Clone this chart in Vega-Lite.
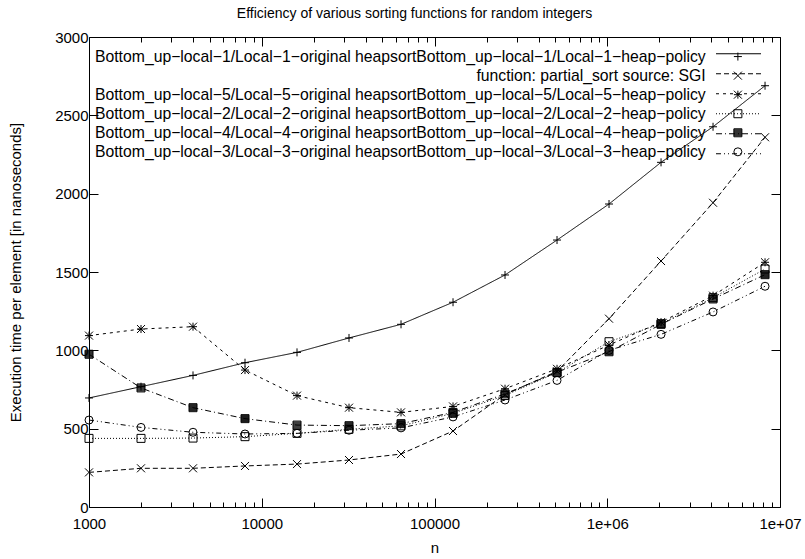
{
  "$schema": "https://vega.github.io/schema/vega-lite/v6.json",
  "width": 691,
  "height": 470,
  "autosize": {"type": "none"},
  "padding": {"left": 89, "top": 37, "right": 25, "bottom": 52},
  "background": "white",
  "title": {"text": "Efficiency of various sorting functions for random integers", "fontSize": 14, "fontWeight": "normal", "font": "Liberation Sans", "color": "black", "offset": 9, "dx": -20},
  "datasets": {
    "labels": [
      {"id": 1, "series": "Bottom_up−local−1/Local−1−original heapsortBottom_up−local−1/Local−1−heap−policy"},
      {"id": 2, "series": "function: partial_sort source: SGI"},
      {"id": 3, "series": "Bottom_up−local−5/Local−5−original heapsortBottom_up−local−5/Local−5−heap−policy"},
      {"id": 4, "series": "Bottom_up−local−2/Local−2−original heapsortBottom_up−local−2/Local−2−heap−policy"},
      {"id": 5, "series": "Bottom_up−local−4/Local−4−original heapsortBottom_up−local−4/Local−4−heap−policy"},
      {"id": 6, "series": "Bottom_up−local−3/Local−3−original heapsortBottom_up−local−3/Local−3−heap−policy"}
    ],
    "points": [
      {"id": 1, "n": 1000, "t": 696}, {"id": 1, "n": 2000, "t": 768}, {"id": 1, "n": 4000, "t": 840}, {"id": 1, "n": 8000, "t": 921}, {"id": 1, "n": 16000, "t": 987}, {"id": 1, "n": 32000, "t": 1079}, {"id": 1, "n": 64000, "t": 1166}, {"id": 1, "n": 128000, "t": 1307}, {"id": 1, "n": 256000, "t": 1481}, {"id": 1, "n": 512000, "t": 1704}, {"id": 1, "n": 1024000, "t": 1934}, {"id": 1, "n": 2048000, "t": 2200}, {"id": 1, "n": 4096000, "t": 2427}, {"id": 1, "n": 8192000, "t": 2689},
      {"id": 2, "n": 1000, "t": 221}, {"id": 2, "n": 2000, "t": 247}, {"id": 2, "n": 4000, "t": 247}, {"id": 2, "n": 8000, "t": 262}, {"id": 2, "n": 16000, "t": 274}, {"id": 2, "n": 32000, "t": 300}, {"id": 2, "n": 64000, "t": 338}, {"id": 2, "n": 128000, "t": 485}, {"id": 2, "n": 256000, "t": 718}, {"id": 2, "n": 512000, "t": 866}, {"id": 2, "n": 1024000, "t": 1202}, {"id": 2, "n": 2048000, "t": 1570}, {"id": 2, "n": 4096000, "t": 1942}, {"id": 2, "n": 8192000, "t": 2360},
      {"id": 3, "n": 1000, "t": 1094}, {"id": 3, "n": 2000, "t": 1136}, {"id": 3, "n": 4000, "t": 1151}, {"id": 3, "n": 8000, "t": 874}, {"id": 3, "n": 16000, "t": 711}, {"id": 3, "n": 32000, "t": 634}, {"id": 3, "n": 64000, "t": 604}, {"id": 3, "n": 128000, "t": 642}, {"id": 3, "n": 256000, "t": 755}, {"id": 3, "n": 512000, "t": 882}, {"id": 3, "n": 1024000, "t": 1034}, {"id": 3, "n": 2048000, "t": 1180}, {"id": 3, "n": 4096000, "t": 1349}, {"id": 3, "n": 8192000, "t": 1562},
      {"id": 4, "n": 1000, "t": 438}, {"id": 4, "n": 2000, "t": 438}, {"id": 4, "n": 4000, "t": 440}, {"id": 4, "n": 8000, "t": 449}, {"id": 4, "n": 16000, "t": 470}, {"id": 4, "n": 32000, "t": 496}, {"id": 4, "n": 64000, "t": 518}, {"id": 4, "n": 128000, "t": 598}, {"id": 4, "n": 256000, "t": 712}, {"id": 4, "n": 512000, "t": 858}, {"id": 4, "n": 1024000, "t": 1055}, {"id": 4, "n": 2048000, "t": 1170}, {"id": 4, "n": 4096000, "t": 1336}, {"id": 4, "n": 8192000, "t": 1519},
      {"id": 5, "n": 1000, "t": 975}, {"id": 5, "n": 2000, "t": 760}, {"id": 5, "n": 4000, "t": 634}, {"id": 5, "n": 8000, "t": 564}, {"id": 5, "n": 16000, "t": 523}, {"id": 5, "n": 32000, "t": 519}, {"id": 5, "n": 64000, "t": 532}, {"id": 5, "n": 128000, "t": 604}, {"id": 5, "n": 256000, "t": 722}, {"id": 5, "n": 512000, "t": 860}, {"id": 5, "n": 1024000, "t": 991}, {"id": 5, "n": 2048000, "t": 1166}, {"id": 5, "n": 4096000, "t": 1328}, {"id": 5, "n": 8192000, "t": 1483},
      {"id": 6, "n": 1000, "t": 555}, {"id": 6, "n": 2000, "t": 508}, {"id": 6, "n": 4000, "t": 477}, {"id": 6, "n": 8000, "t": 466}, {"id": 6, "n": 16000, "t": 470}, {"id": 6, "n": 32000, "t": 490}, {"id": 6, "n": 64000, "t": 505}, {"id": 6, "n": 128000, "t": 575}, {"id": 6, "n": 256000, "t": 683}, {"id": 6, "n": 512000, "t": 808}, {"id": 6, "n": 1024000, "t": 1000}, {"id": 6, "n": 2048000, "t": 1102}, {"id": 6, "n": 4096000, "t": 1245}, {"id": 6, "n": 8192000, "t": 1409}
    ]
  },
  "data": {"name": "points"},
  "transform": [
    {"lookup": "id", "from": {"data": {"name": "labels"}, "key": "id", "fields": ["series"]}}
  ],
  "layer": [
    {
      "mark": {"type": "line", "color": "black", "strokeWidth": 1},
      "encoding": {
        "x": {
          "field": "n", "type": "quantitative",
          "scale": {"type": "log", "domain": [1000, 10000000], "nice": false},
          "axis": {
            "orient": "bottom",
            "values": [1000, 2000, 3000, 4000, 5000, 6000, 7000, 8000, 9000, 10000, 20000, 30000, 40000, 50000, 60000, 70000, 80000, 90000, 100000, 200000, 300000, 400000, 500000, 600000, 700000, 800000, 900000, 1000000, 2000000, 3000000, 4000000, 5000000, 6000000, 7000000, 8000000, 9000000, 10000000],
            "labelExpr": "datum.value == 1000 ? '1000' : datum.value == 10000 ? '10000' : datum.value == 100000 ? '100000' : datum.value == 1000000 ? '1e+06' : datum.value == 10000000 ? '1e+07' : ''",
            "tickSize": {"condition": {"test": "indexof([1000, 10000, 100000, 1000000, 10000000], datum.value) >= 0", "value": -9}, "value": -5},
            "labelPadding": 18,
            "title": "n",
            "titlePadding": 5
          }
        },
        "y": {
          "field": "t", "type": "quantitative",
          "scale": {"domain": [0, 3000], "nice": false},
          "axis": {
            "orient": "left",
            "values": [0, 500, 1000, 1500, 2000, 2500, 3000],
            "format": "d",
            "tickSize": -9,
            "labelPadding": 10,
            "title": "Execution time per element [in nanoseconds]",
            "titlePadding": 31
          }
        },
        "strokeDash": {
          "field": "id", "type": "nominal",
          "scale": {"range": [[1, 0], [5, 3], [3, 4], [1, 2], [6, 3, 1, 3], [5, 3, 1, 3, 1, 3]]},
          "legend": {
            "orient": "none", "legendX": 626.5, "legendY": 7,
            "title": null, "padding": 0, "rowPadding": 0, "clipHeight": 19.5,
            "symbolType": "stroke", "symbolSize": 2025, "symbolStrokeWidth": 1, "symbolStrokeColor": "black",
            "labelExpr": "''"
          }
        }
      }
    },
    {
      "mark": {"type": "point", "stroke": "black", "strokeWidth": 1, "size": 64, "opacity": 1, "filled": false},
      "encoding": {
        "x": {
          "field": "n", "type": "quantitative",
          "scale": {"type": "log", "domain": [1000, 10000000], "nice": false},
          "axis": {
            "orient": "top",
            "values": [1000, 2000, 3000, 4000, 5000, 6000, 7000, 8000, 9000, 10000, 20000, 30000, 40000, 50000, 60000, 70000, 80000, 90000, 100000, 200000, 300000, 400000, 500000, 600000, 700000, 800000, 900000, 1000000, 2000000, 3000000, 4000000, 5000000, 6000000, 7000000, 8000000, 9000000, 10000000],
            "labels": false,
            "tickSize": {"condition": {"test": "indexof([1000, 10000, 100000, 1000000, 10000000], datum.value) >= 0", "value": -9}, "value": -5},
            "title": null
          }
        },
        "y": {
          "field": "t", "type": "quantitative",
          "scale": {"domain": [0, 3000], "nice": false},
          "axis": {
            "orient": "right",
            "values": [0, 500, 1000, 1500, 2000, 2500, 3000],
            "labels": false,
            "tickSize": -9,
            "title": null
          }
        },
        "shape": {
          "field": "series", "type": "nominal",
          "sort": [
            "Bottom_up−local−1/Local−1−original heapsortBottom_up−local−1/Local−1−heap−policy",
            "function: partial_sort source: SGI",
            "Bottom_up−local−5/Local−5−original heapsortBottom_up−local−5/Local−5−heap−policy",
            "Bottom_up−local−2/Local−2−original heapsortBottom_up−local−2/Local−2−heap−policy",
            "Bottom_up−local−4/Local−4−original heapsortBottom_up−local−4/Local−4−heap−policy",
            "Bottom_up−local−3/Local−3−original heapsortBottom_up−local−3/Local−3−heap−policy"
          ],
          "scale": {"range": [
            "M-1,0H1M0,-1V1",
            "M-1,-1L1,1M-1,1L1,-1",
            "M-1,0H1M0,-1V1M-1,-1L1,1M-1,1L1,-1",
            "M-1,-1H1V1H-1Z",
            "M-1,-1H1V1H-1ZM-1,-0.75H1M-1,-0.5H1M-1,-0.25H1M-1,0H1M-1,0.25H1M-1,0.5H1M-1,0.75H1",
            "circle"
          ]},
          "legend": {
            "orient": "none", "legendX": 641, "legendY": 11.7,
            "title": null, "padding": 0, "rowPadding": 2.05,
            "symbolSize": 64, "symbolStrokeWidth": 1, "symbolStrokeColor": "black", "symbolFillColor": "transparent", "symbolOpacity": 1,
            "labelAlign": "right", "labelOffset": -40, "labelLimit": 0, "labelFontSize": 15.75, "labelColor": "black"
          }
        }
      }
    }
  ],
  "resolve": {"axis": {"x": "independent", "y": "independent"}},
  "config": {
    "font": "Liberation Sans",
    "view": {"stroke": "black", "strokeWidth": 1},
    "axis": {
      "domain": false, "grid": false,
      "tickColor": "black", "tickWidth": 1,
      "labelColor": "black", "labelFontSize": 15, "labelFont": "Liberation Sans",
      "labelFlush": false, "labelOverlap": false,
      "titleColor": "black", "titleFontSize": 15, "titleFontWeight": "normal", "titleFont": "Liberation Sans"
    },
    "legend": {"labelFont": "Liberation Sans"}
  }
}
